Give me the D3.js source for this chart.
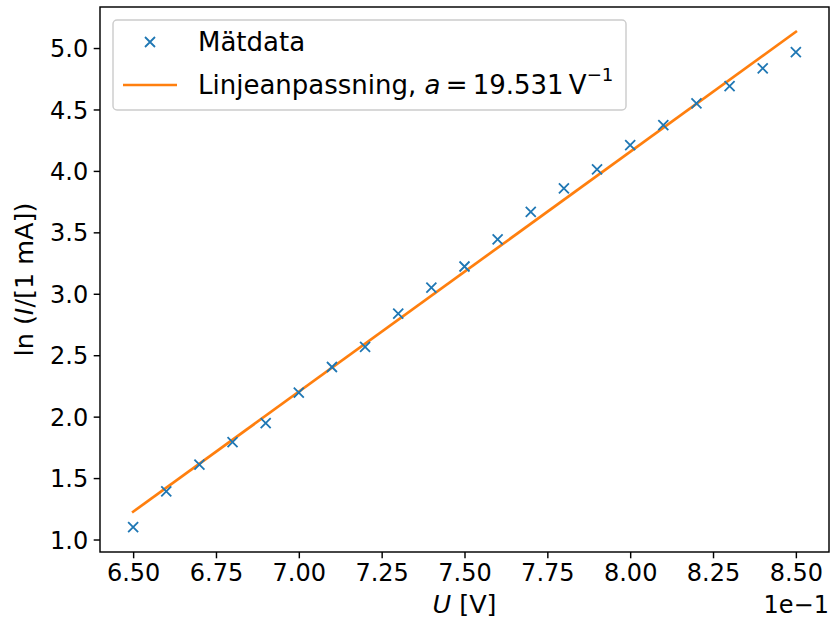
<!DOCTYPE html>
<html>
<head>
<meta charset="utf-8">
<script src="https://cdn.jsdelivr.net/npm/d3@7"></script>
<style>
  html, body { margin: 0; padding: 0; background: #fff; }
  svg { display: block; }
  text { font-family: "DejaVu Sans", sans-serif; fill: #000; }
</style>
</head>
<body>
<svg id="chart" width="834" height="624"></svg>
<script>
// ---- Data (x in units of 1e-1 V) ----
const voltages = [6.5, 6.6, 6.7, 6.8, 6.9, 7.0, 7.1, 7.2, 7.3, 7.4, 7.5,
                  7.6, 7.7, 7.8, 7.9, 8.0, 8.1, 8.2, 8.3, 8.4, 8.5];
const lnCurrent = [1.100, 1.391, 1.609, 1.793, 1.947, 2.195, 2.404, 2.567, 2.839, 3.050, 3.222,
                   3.442, 3.666, 3.857, 4.012, 4.210, 4.373, 4.549, 4.690, 4.835, 4.967];
const fitSlope = 19.531;      // per V
const fitIntercept = -11.469;
const xTicks = [6.50, 6.75, 7.00, 7.25, 7.50, 7.75, 8.00, 8.25, 8.50];
const yTicks = [1.0, 1.5, 2.0, 2.5, 3.0, 3.5, 4.0, 4.5, 5.0];

const svg = d3.select("#chart");
const L = 100, R = 829, T = 7, B = 552;
const FS = 24, FL = 25.5, FLEG = 26;
const blue = "#1f77b4", orange = "#ff7f0e";

const fitY = v => fitSlope * v * 0.1 + fitIntercept;
const fitPts = [voltages[0], voltages[voltages.length - 1]].map(v => [v, fitY(v)]);

const xmin = d3.min(voltages), xmax = d3.max(voltages);
const allY = lnCurrent.concat(fitPts.map(p => p[1]));
const ymin = d3.min(allY), ymax = d3.max(allY);
const xpad = (xmax - xmin) * 0.05, ypad = (ymax - ymin) * 0.05;

const x = d3.scaleLinear().domain([xmin - xpad, xmax + xpad]).range([L, R]);
const y = d3.scaleLinear().domain([ymin - ypad, ymax + ypad]).range([B, T]);

// axes
const xAxis = d3.axisBottom(x).tickValues(xTicks).tickFormat(d3.format(".2f"))
  .tickSize(6.3).tickPadding(5.5);
const yAxis = d3.axisLeft(y).tickValues(yTicks).tickFormat(d3.format(".1f"))
  .tickSize(6.3).tickPadding(5.5);

const gx = svg.append("g").attr("transform", `translate(0,${B})`).call(xAxis);
const gy = svg.append("g").attr("transform", `translate(${L},0)`).call(yAxis);
[gx, gy].forEach(g => {
  g.select(".domain").remove();
  g.selectAll(".tick line").attr("stroke", "#000").attr("stroke-width", 1.45);
  g.selectAll(".tick text").attr("font-size", FS).attr("font-family", "DejaVu Sans").attr("fill", "#000");
});
gx.selectAll(".tick text").attr("dy", "0.72em");
gy.selectAll(".tick text").attr("dy", "0.36em");

// fit line
svg.append("clipPath").attr("id", "clip").append("rect")
  .attr("x", L).attr("y", T).attr("width", R - L).attr("height", B - T);

svg.append("path")
  .datum(fitPts)
  .attr("clip-path", "url(#clip)")
  .attr("fill", "none").attr("stroke", orange).attr("stroke-width", 2.7)
  .attr("stroke-linecap", "square")
  .attr("d", d3.line().x(d => x(d[0])).y(d => y(d[1])));

// markers
const ms = 5;
const xMarker = (cx, cy) => `M${cx - ms},${cy - ms}L${cx + ms},${cy + ms}M${cx - ms},${cy + ms}L${cx + ms},${cy - ms}`;
svg.append("g").selectAll("path").data(voltages).join("path")
  .attr("d", (v, i) => xMarker(x(v), y(lnCurrent[i])))
  .attr("stroke", blue).attr("stroke-width", 1.8).attr("fill", "none");

// frame
svg.append("rect").attr("x", L).attr("y", T).attr("width", R - L).attr("height", B - T)
  .attr("fill", "none").attr("stroke", "#000").attr("stroke-width", 1.45);

// axis labels
const xl = svg.append("text").attr("x", (L + R) / 2).attr("y", 613)
  .attr("text-anchor", "middle").attr("font-size", FL);
xl.append("tspan").attr("font-style", "italic").text("U");
xl.append("tspan").text(" [V]");

const yl = svg.append("text")
  .attr("transform", `translate(33,${(T + B) / 2}) rotate(-90)`)
  .attr("text-anchor", "middle").attr("font-size", FL);
yl.append("tspan").text("ln (");
yl.append("tspan").attr("font-style", "italic").text("I");
yl.append("tspan").text("/[1 mA])");

// offset text
svg.append("text").attr("x", R).attr("y", 613).attr("text-anchor", "end")
  .attr("font-size", FS).text("1e\u22121");

// legend
const lg = svg.append("g");
lg.append("rect").attr("x", 113).attr("y", 20).attr("width", 513).attr("height", 90)
  .attr("rx", 4).attr("ry", 4).attr("fill", "#fff").attr("fill-opacity", 0.8)
  .attr("stroke", "#cccccc").attr("stroke-width", 1.45);
lg.append("path").attr("d", xMarker(150, 42))
  .attr("stroke", blue).attr("stroke-width", 1.8).attr("fill", "none");
lg.append("text").attr("x", 198).attr("y", 42).attr("dy", "0.36em")
  .attr("font-size", FLEG).text("Mätdata");
lg.append("line").attr("x1", 123).attr("x2", 177).attr("y1", 85).attr("y2", 85)
  .attr("stroke", orange).attr("stroke-width", 2.7);
const lt = lg.append("text").attr("x", 198).attr("y", 85).attr("dy", "0.36em")
  .attr("font-size", FLEG);
lt.append("tspan").text("Linjeanpassning, ");
lt.append("tspan").attr("font-style", "italic").text("a");
lt.append("tspan").text("\u2009=\u200919.531\u2009V");
lt.append("tspan").attr("font-size", FLEG * 0.7).attr("dy", "-0.75em").text("\u22121");
</script>
</body>
</html>
